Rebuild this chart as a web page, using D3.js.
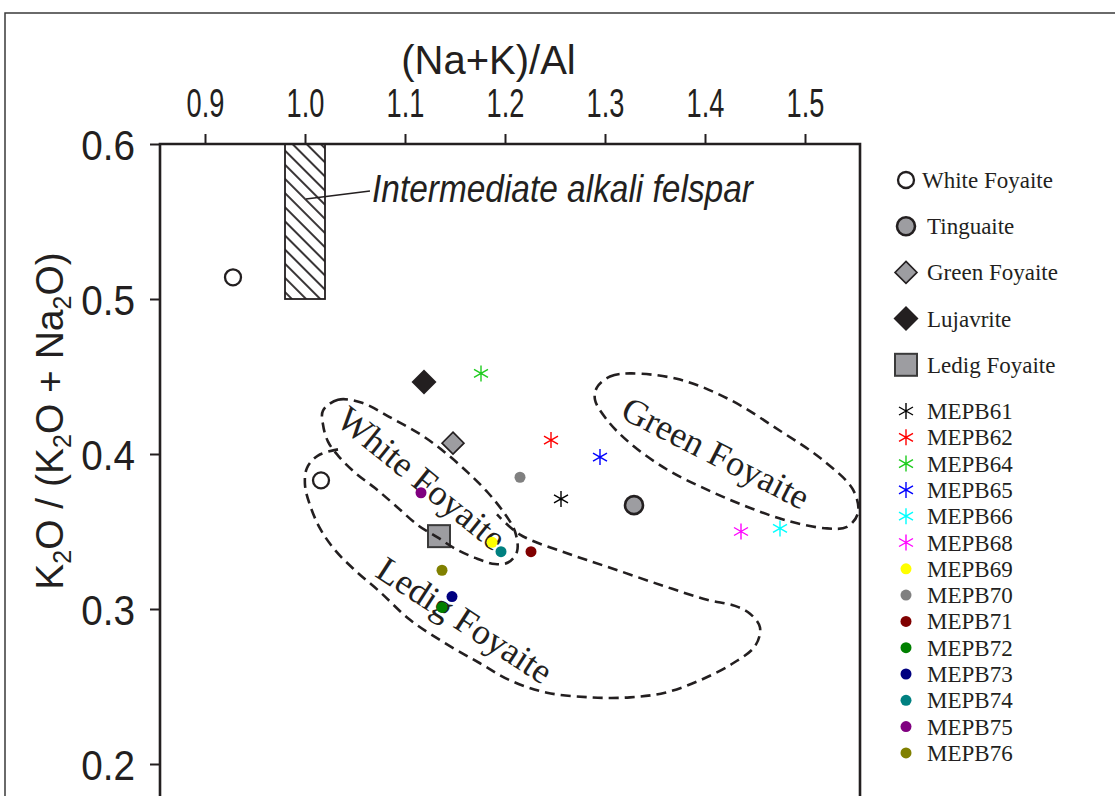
<!DOCTYPE html>
<html>
<head>
<meta charset="utf-8">
<script src="https://cdn.jsdelivr.net/npm/d3@7"></script>
<style>
  body { margin: 0; background: #fff; }
  svg { display: block; }
  .sans { font-family: "Liberation Sans", Arial, sans-serif; fill: #231f20; }
  .serif { font-family: "Liberation Serif", "Times New Roman", serif; fill: #231f20; }
</style>
</head>
<body>
<div id="chart"></div>
<script>
// axis ticks
const xTicks = [0.9, 1.0, 1.1, 1.2, 1.3, 1.4, 1.5]
const yTicks = [0.2, 0.3, 0.4, 0.5, 0.6]

// rock groups, [(Na+K)/Al, K2O/(K2O+Na2O)]
const whiteFoyaite = [[0.928, 0.514], [1.016, 0.383]]
const tinguaite = [[1.329, 0.367]]
const greenFoyaite = [[1.148, 0.407]]
const lujavrite = [[1.119, 0.4465]]
const ledigFoyaite = [[1.134, 0.347]]

// individual samples
const samples = ["MEPB61", "MEPB62", "MEPB64", "MEPB65", "MEPB66", "MEPB68", "MEPB69",
  "MEPB70", "MEPB71", "MEPB72", "MEPB73", "MEPB74", "MEPB75", "MEPB76"]
const sampleX = [1.256, 1.246, 1.176, 1.295, 1.475, 1.436, 1.187,
  1.215, 1.226, 1.137, 1.147, 1.196, 1.116, 1.137]
const sampleY = [0.371, 0.409, 0.452, 0.398, 0.352, 0.350, 0.343,
  0.385, 0.337, 0.301, 0.308, 0.337, 0.375, 0.325]

// intermediate alkali felspar field
const felsparX = [0.98, 1.02]
const felsparY = [0.5, 0.6]

// dashed field outlines
const whiteField = [[1.018, 0.428], [1.033, 0.435], [1.057, 0.433], [1.087, 0.423], [1.117, 0.412],
  [1.140, 0.401], [1.163, 0.388], [1.183, 0.375], [1.198, 0.363], [1.210, 0.350], [1.212, 0.337],
  [1.203, 0.330], [1.190, 0.329], [1.170, 0.333], [1.150, 0.339], [1.133, 0.346], [1.113, 0.354],
  [1.090, 0.367], [1.070, 0.378], [1.050, 0.388], [1.033, 0.399], [1.023, 0.408], [1.018, 0.419]]
const ledigField = [[1.033, 0.403], [1.013, 0.399], [1.002, 0.391], [1.000, 0.380], [1.005, 0.367],
  [1.015, 0.352], [1.030, 0.338], [1.050, 0.325], [1.075, 0.311], [1.105, 0.293], [1.140, 0.278],
  [1.175, 0.265], [1.205, 0.254], [1.242, 0.246], [1.285, 0.243], [1.325, 0.243], [1.360, 0.246],
  [1.395, 0.254], [1.428, 0.265], [1.450, 0.276], [1.455, 0.288], [1.445, 0.297], [1.430, 0.302],
  [1.402, 0.306], [1.358, 0.315], [1.308, 0.326], [1.262, 0.336], [1.215, 0.348], [1.192, 0.361]]
const greenField = [[1.292, 0.443], [1.305, 0.450], [1.325, 0.452], [1.375, 0.448], [1.425, 0.435],
  [1.475, 0.415], [1.518, 0.396], [1.548, 0.377], [1.553, 0.362], [1.542, 0.353], [1.522, 0.352],
  [1.482, 0.357], [1.442, 0.366], [1.402, 0.377], [1.362, 0.390], [1.325, 0.407], [1.302, 0.422],
  [1.290, 0.435]]

// field names: text, x, y, angle
const fieldNames = ["White Foyaite", "Ledig Foyaite", "Green Foyaite"]
const fieldNameX = [1.117, 1.160, 1.411]
const fieldNameY = [0.3845, 0.293, 0.401]
const fieldNameAngle = [39, 33, 27]

const sampleColor = {
  MEPB61: "#000000", MEPB62: "#ff0000", MEPB64: "#1ecc1e", MEPB65: "#0000ff",
  MEPB66: "#00ffff", MEPB68: "#ff00ff", MEPB69: "#ffff00", MEPB70: "#808080",
  MEPB71: "#800000", MEPB72: "#008000", MEPB73: "#000080", MEPB74: "#008080",
  MEPB75: "#800080", MEPB76: "#808000"
}
const starSamples = ["MEPB61", "MEPB62", "MEPB64", "MEPB65", "MEPB66", "MEPB68"]

const width = 1115, height = 796
const ink = "#231f20"

const svg = d3.select("#chart").append("svg")
  .attr("width", width).attr("height", height)

const x = d3.scaleLinear().domain([0.855, 1.555]).range([160, 860])
const y = d3.scaleLinear().domain([0.6, 0.2]).range([144, 764])

// outer frame
svg.append("path")
  .attr("d", `M5,${height} V13 H${width}`)
  .attr("fill", "none").attr("stroke", "#3a3a3a").attr("stroke-width", 1.5)

const defs = svg.append("defs")
defs.append("pattern")
    .attr("id", "hatch")
    .attr("patternUnits", "userSpaceOnUse")
    .attr("width", 10).attr("height", 10)
    .attr("patternTransform", "rotate(45)")
  .append("line")
    .attr("x1", 0).attr("x2", 10).attr("y1", 5).attr("y2", 5)
    .attr("stroke", ink).attr("stroke-width", 1.8)

// symbol helpers
function symbol(g, kind, color) {
  if (kind === "open") {
    g.append("circle").attr("r", 8).attr("fill", "#fff").attr("stroke", ink).attr("stroke-width", 2.3)
  } else if (kind === "grayCircle") {
    g.append("circle").attr("r", 9).attr("fill", "#9d9da1").attr("stroke", ink).attr("stroke-width", 2.6)
  } else if (kind === "grayDiamond") {
    g.append("path").attr("d", "M0,-11 L11,0 L0,11 L-11,0Z").attr("fill", "#9d9da1").attr("stroke", ink).attr("stroke-width", 1.6)
  } else if (kind === "blackDiamond") {
    g.append("path").attr("d", "M0,-12.5 L12.5,0 L0,12.5 L-12.5,0Z").attr("fill", ink)
  } else if (kind === "graySquare") {
    g.append("rect").attr("x", -11).attr("y", -11).attr("width", 22).attr("height", 22)
      .attr("fill", "#9d9da1").attr("stroke", "#3a3a3a").attr("stroke-width", 2)
  } else if (kind === "star") {
    g.append("path").attr("d", "M0,-8V8M-7,-4L7,4M-7,4L7,-4")
      .attr("stroke", color).attr("stroke-width", 1.4).attr("fill", "none")
  } else {
    g.append("circle").attr("r", 5.5).attr("fill", color)
  }
}

// hatched felspar box
svg.append("rect")
  .attr("x", x(felsparX[0])).attr("y", y(felsparY[1]))
  .attr("width", x(felsparX[1]) - x(felsparX[0]))
  .attr("height", y(felsparY[0]) - y(felsparY[1]))
  .attr("fill", "url(#hatch)").attr("stroke", ink).attr("stroke-width", 1.8)

svg.append("line")
  .attr("x1", x(1.001)).attr("y1", y(0.5645))
  .attr("x2", x(1.065)).attr("y2", y(0.5697))
  .attr("stroke", ink).attr("stroke-width", 1.6)

svg.append("text").attr("class", "sans")
  .attr("transform", `translate(${x(1.067)},${y(0.5625)}) scale(0.88,1)`)
  .attr("font-size", 38).attr("font-style", "italic")
  .text("Intermediate alkali felspar")

// field names
fieldNames.forEach((name, i) => {
  svg.append("text").attr("class", "serif")
    .attr("transform", `translate(${x(fieldNameX[i])},${y(fieldNameY[i])}) rotate(${fieldNameAngle[i]})`)
    .attr("text-anchor", "middle").attr("dy", "0.35em")
    .attr("font-size", 36)
    .text(name)
})

// points
const groupData = [
  [whiteFoyaite, "open"], [tinguaite, "grayCircle"], [greenFoyaite, "grayDiamond"],
  [lujavrite, "blackDiamond"], [ledigFoyaite, "graySquare"]
]
groupData.forEach(([pts, kind]) => {
  pts.forEach(p => symbol(svg.append("g").attr("transform", `translate(${x(p[0])},${y(p[1])})`), kind))
})
samples.forEach((s, i) => {
  const kind = starSamples.includes(s) ? "star" : "dot"
  symbol(svg.append("g").attr("transform", `translate(${x(sampleX[i])},${y(sampleY[i])})`), kind, sampleColor[s])
})

// dashed outlines
const line = d3.line().x(d => x(d[0])).y(d => y(d[1]))
const dashed = p => p.attr("fill", "none").attr("stroke", ink)
  .attr("stroke-width", 2.6).attr("stroke-dasharray", "10,6")
svg.append("path").attr("d", line.curve(d3.curveCatmullRomClosed)(whiteField)).call(dashed)
svg.append("path").attr("d", line.curve(d3.curveCatmullRom)(ledigField)).call(dashed)
svg.append("path").attr("d", line.curve(d3.curveCatmullRomClosed)(greenField)).call(dashed)

// axes
const gx = svg.append("g").attr("transform", `translate(0,${y(0.6)})`)
  .call(d3.axisTop(x).tickValues(xTicks).tickFormat(d3.format(".1f")).tickSize(10).tickPadding(17))
const gy = svg.append("g").attr("transform", `translate(${x.range()[0]},0)`)
  .call(d3.axisLeft(y).tickValues(yTicks).tickFormat(d3.format(".1f")).tickSize(10))
gx.select(".domain").remove()
gy.select(".domain").remove()
gx.selectAll(".tick line").attr("stroke", ink).attr("stroke-width", 2)
gy.selectAll(".tick line").attr("stroke", ink).attr("stroke-width", 2)
gx.selectAll(".tick text").attr("class", "sans").attr("font-size", 40)
  .attr("transform", "scale(0.68,1)")
gy.selectAll(".tick text").attr("class", "sans").attr("font-size", 43)
  .attr("x", -25 / 0.9).attr("dy", "0.36em").attr("transform", "scale(0.9,1)")

// plot frame (top, left, right)
svg.append("path")
  .attr("d", `M${x.range()[0]},${height} V${y(0.6)} H${x.range()[1]} V${height}`)
  .attr("fill", "none").attr("stroke", ink).attr("stroke-width", 2.6)

// axis titles
svg.append("text").attr("class", "sans")
  .attr("transform", `translate(${x(1.1835)},74)`)
  .attr("text-anchor", "middle").attr("font-size", 40)
  .text("(Na+K)/Al")

const yTitle = svg.append("text").attr("class", "sans")
  .attr("transform", "translate(63,421) rotate(-90)")
  .attr("text-anchor", "middle").attr("font-size", 39)
yTitle.append("tspan").text("K")
yTitle.append("tspan").attr("font-size", 25).attr("dy", 8).text("2")
yTitle.append("tspan").attr("dy", -8).text("O / (K")
yTitle.append("tspan").attr("font-size", 25).attr("dy", 8).text("2")
yTitle.append("tspan").attr("dy", -8).text("O + Na")
yTitle.append("tspan").attr("font-size", 25).attr("dy", 8).text("2")
yTitle.append("tspan").attr("dy", -8).text("O)")

// legend
const legendItems = [
  ["White Foyaite", "open"], ["Tinguaite", "grayCircle"], ["Green Foyaite", "grayDiamond"],
  ["Lujavrite", "blackDiamond"], ["Ledig Foyaite", "graySquare"]
].concat(samples.map(s => [s, starSamples.includes(s) ? "star" : "dot"]))

legendItems.forEach(([name, kind], i) => {
  const ly = i < 5 ? 180 + i * 46.2 : 411 + (i - 5) * 26.3
  const g = svg.append("g").attr("transform", `translate(906,${ly})`)
  symbol(g, kind, sampleColor[name])
  g.append("text").attr("class", "serif")
    .attr("x", i === 0 ? 16 : 21).attr("dy", "0.35em")
    .attr("font-size", 23)
    .text(name)
})
</script>
</body>
</html>
